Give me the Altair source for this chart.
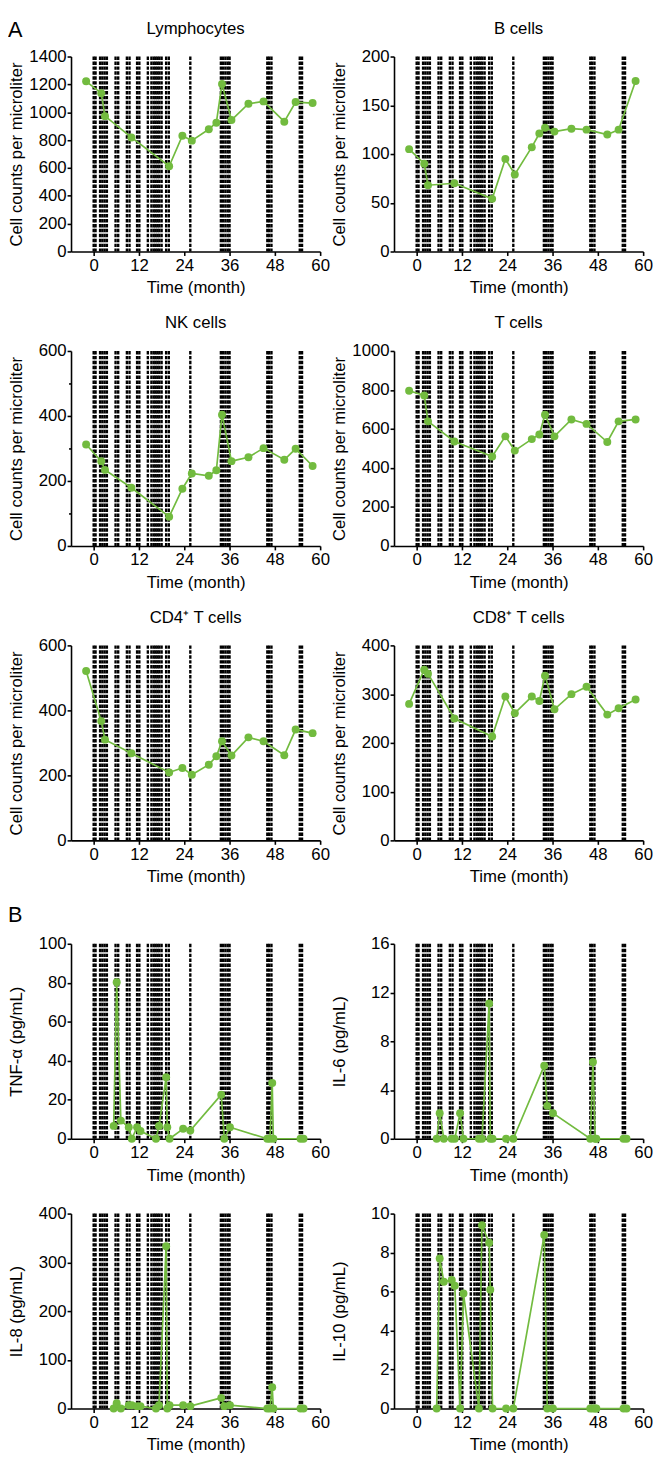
import altair as alt
import pandas as pd

FONT = "Liberation Sans, Arial, Helvetica, sans-serif"
GREEN = "#72bb3f"
W = 253
H = 198
FS = 17

# months at which the vertical dashed markers are drawn
dash_months = [0.0, 0.5, 1.7, 2.3, 2.9, 3.5, 5.8, 6.5, 8.8, 9.5, 11.5, 12.1, 14.35,
               15.3, 15.9, 16.4, 16.9, 17.4, 18.0, 19.2, 19.9, 25.6,
               33.7, 34.3, 34.9, 35.5, 36.0, 46.0, 46.5, 47.1, 54.6, 55.2]

# panel A
cell_time = [-2, 2, 3, 10, 20, 23.5, 26, 30.5, 32.5, 34, 36.5, 41, 45, 50.5, 53.5, 58]
lymphocytes = [1222, 1137, 972, 819, 612, 831, 796, 878, 925, 1203, 944, 1061, 1078, 932, 1073, 1066]
b_cells = [105, 90, 68, 70, 54, 95, 79, 107, 121, 127, 123, 126, 125, 120, 125, 175]
nk_cells = [312, 261, 234, 179, 90, 176, 223, 216, 233, 404, 261, 273, 301, 265, 299, 246]
t_cells = [796, 772, 639, 536, 459, 562, 489, 548, 572, 673, 562, 649, 626, 533, 639, 649]
cd4_t_cells = [521, 367, 310, 268, 209, 223, 202, 233, 259, 305, 261, 317, 305, 262, 341, 330]
cd8_t_cells = [280, 350, 342, 250, 213, 295, 261, 295, 286, 338, 269, 300, 315, 258, 271, 289]

# panel B
cyto_time = [5.3, 6.1, 7.2, 9.3, 10.1, 11.5, 12.4, 16.5, 17.3, 19.2, 19.5, 20.1, 23.7, 25.6,
             33.8, 34.6, 36.1, 46.0, 46.7, 47.3, 47.6, 54.8, 55.6]
tnf_alpha = [6.6, 80.3, 9.3, 5.9, 0, 5.9, 4.0, 0, 6.6, 31.5, 5.9, 0, 5.1, 4.2, 22.6, 0, 5.9, 0, 0, 28.6, 0, 0, 0]
il_6 = [0, 2.1, 0, 0, 0, 2.1, 0, 0, 0, 11.1, 0, 0, 0, 0, 6.0, 2.7, 2.1, 0, 6.3, 0, 0, 0, 0]
il_8 = [0, 11, 0, 7, 7, 5, 5, 0, 7, 333, 0, 7, 7, 5, 22, 5, 7, 0, 0, 44, 0, 0, 0]
il_10 = [0, 7.7, 6.5, 6.6, 6.3, 0, 5.9, 0, 9.4, 8.5, 6.1, 0, 0, 0, 8.9, 0, 0, 0, 0, 0, 0, 0, 0]

x_ticks = [0, 12, 24, 36, 48, 60]
CELL_TITLE = "Cell counts per microliter"


def panel(times, values, ymax, yticks, ytitle, title=None, label_step=None):
    df = pd.DataFrame({"t": times, "v": values})
    dash_df = pd.DataFrame({"d": dash_months})
    xs = alt.Scale(domain=[-6, 60], nice=False, zero=False)
    ys = alt.Scale(domain=[0, ymax], nice=False)
    x_axis = alt.Axis(values=x_ticks, title="Time (month)", tickSize=4, labelPadding=2,
                      titlePadding=7, domainWidth=1.6, tickWidth=1.6, labelFlush=False, format="d")
    yargs = dict(values=yticks, title=ytitle, tickSize=4, labelPadding=1, titlePadding=3,
                 minExtent=43, maxExtent=43, domainWidth=1.6, tickWidth=1.6, labelFlush=False,
                 format="d")
    if label_step:
        yargs["labelExpr"] = f"datum.value % {label_step} === 0 ? datum.label : ''"
        yargs["tickSize"] = {"condition": {"test": f"datum.value % {label_step} === 0", "value": 4},
                             "value": 2.5}
    y_axis = alt.Axis(**yargs)
    rules = alt.Chart(dash_df).mark_rule(color="black", strokeWidth=2.4, strokeDash=[3.5, 1.5]).encode(
        x=alt.X("d:Q", scale=xs, axis=x_axis))
    base = alt.Chart(df).encode(x=alt.X("t:Q", scale=xs, axis=x_axis),
                                y=alt.Y("v:Q", scale=ys, axis=y_axis))
    line = base.mark_line(color=GREEN, strokeWidth=1.7)
    pts = base.mark_circle(color=GREEN, opacity=1, size=65)
    props = dict(width=W, height=H)
    if title is not None:
        props["title"] = title
    return alt.layer(rules, line, pts).properties(**props)


def t(text):
    return alt.TitleParams(text, fontSize=FS, offset=10, font=FONT, fontWeight="normal", color="black")


blank = alt.TitleParams(" ", fontSize=1, offset=2)

row1 = alt.hconcat(
    panel(cell_time, lymphocytes, 1400, list(range(0, 1401, 200)), CELL_TITLE, t("Lymphocytes")),
    panel(cell_time, b_cells, 200, list(range(0, 201, 50)), CELL_TITLE, t("B cells")),
    spacing=1)
row2 = alt.hconcat(
    panel(cell_time, nk_cells, 600, list(range(0, 601, 100)), CELL_TITLE, t("NK cells"), label_step=200),
    panel(cell_time, t_cells, 1000, list(range(0, 1001, 200)), CELL_TITLE, t("T cells")),
    spacing=1)
row3 = alt.hconcat(
    panel(cell_time, cd4_t_cells, 600, list(range(0, 601, 200)), CELL_TITLE, t("CD4\u207a T cells")),
    panel(cell_time, cd8_t_cells, 400, list(range(0, 401, 100)), CELL_TITLE, t("CD8\u207a T cells")),
    spacing=1)
b_title = alt.TitleParams("B", fontSize=22, anchor="start", frame="bounds", offset=8.5,
                          font=FONT, fontWeight="normal", color="black")
row4 = alt.hconcat(
    panel(cyto_time, tnf_alpha, 100, list(range(0, 101, 20)), "TNF-\u03b1 (pg/mL)", b_title),
    panel(cyto_time, il_6, 16, list(range(0, 17, 4)), "IL-6 (pg/mL)"),
    spacing=1)
row5 = alt.hconcat(
    panel(cyto_time, il_8, 400, list(range(0, 401, 100)), "IL-8 (pg/mL)", blank),
    panel(cyto_time, il_10, 10, list(range(0, 11, 2)), "IL-10 (pg/mL)", blank),
    spacing=1)

chart = alt.vconcat(row1, row2, row3, row4, row5, spacing=19).properties(
    title=alt.TitleParams("A", fontSize=22, anchor="start", frame="bounds", offset=-22,
                          font=FONT, fontWeight="normal", color="black"),
    padding=0,
).configure_axis(
    labelFont=FONT, titleFont=FONT, labelFontSize=FS, titleFontSize=FS,
    labelColor="black", titleColor="black", domainColor="black", tickColor="black",
    titleFontWeight="normal", grid=False,
).configure_view(stroke=None).configure_title(font=FONT)

chart.save("out.html", embed_options={"renderer": "svg", "actions": False})
